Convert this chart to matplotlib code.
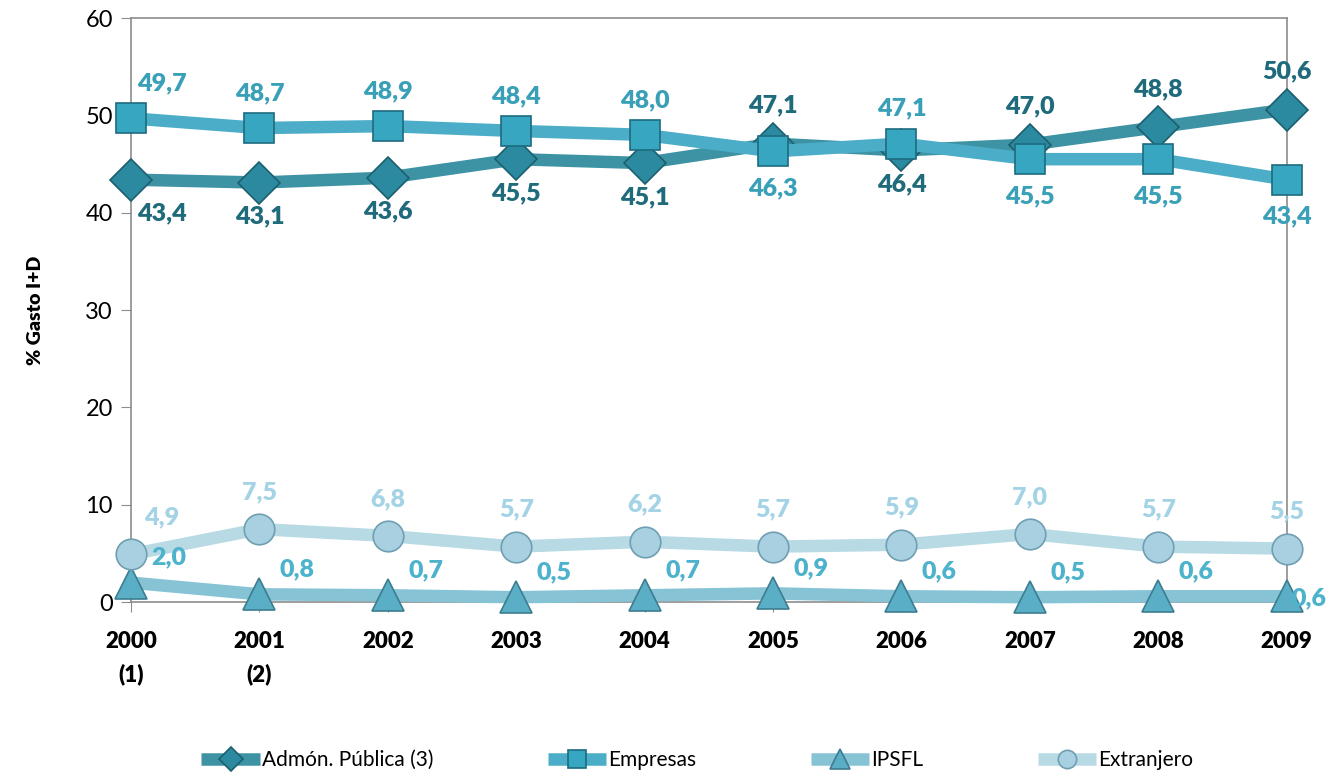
import matplotlib.pyplot as plt
import numpy as np

years = ["2000\n(1)", "2001\n(2)", "2002", "2003", "2004", "2005", "2006", "2007", "2008", "2009"]
admon = [43.4, 43.1, 43.6, 45.5, 45.1, 47.1, 46.4, 47.0, 48.8, 50.6]
empresas = [49.7, 48.7, 48.9, 48.4, 48.0, 46.3, 47.1, 45.5, 45.5, 43.4]
ipsfl = [2.0, 0.8, 0.7, 0.5, 0.7, 0.9, 0.6, 0.5, 0.6, 0.6]
extranjero = [4.9, 7.5, 6.8, 5.7, 6.2, 5.7, 5.9, 7.0, 5.7, 5.5]

AXC = "#8c8c8c"
FONT = "Lato"

fig = plt.figure(figsize=(13.26, 7.84), dpi=100)
ax = fig.add_axes([0.0988, 0.232, 0.8715, 0.745])
x = np.arange(len(years))

series = [
    ("Admón. Pública (3)", admon, "#3d93a4", "D", "#2b8aa0", "#1c5f6e", 21),
    ("Empresas", empresas, "#4badc7", "s", "#36a6c1", "#1d6b80", 21),
    ("IPSFL", ipsfl, "#85c3d5", "^", "#5aaec6", "#3d7d91", 23),
    ("Extranjero", extranjero, "#b7dae5", "o", "#a9d0e0", "#6f9fb2", 22),
]
for name, vals, lc, mk, fc, ec, ms in series:
    ax.plot(x, vals, color=lc, lw=9, marker=mk, ms=ms, mfc=fc, mec=ec, mew=1.2,
            label=name, clip_on=False, zorder=3, solid_capstyle="butt")

# label side per point: a = above, b = below
admon_pos = ["b", "b", "b", "b", "b", "a", "b", "a", "a", "a"]
emp_pos = ["a", "a", "a", "a", "a", "b", "a", "b", "b", "b"]

def lab(xi, v, txt_col, dx, dy):
    ax.annotate(f"{v:.1f}".replace(".", ","), (xi, v), xytext=(dx * 0.72, -dy * 0.72),
                textcoords="offset points", ha="center", va="center", color=txt_col,
                fontsize=18, fontweight="heavy", family=FONT, zorder=5, annotation_clip=False)

for i, v in enumerate(admon):
    dx = 31 if i == 0 else 0
    lab(i, v, "#1f6a7b", dx, -38 if admon_pos[i] == "a" else 34)
for i, v in enumerate(empresas):
    dx = 31 if i == 0 else 0
    lab(i, v, "#3aa0b8", dx, -35 if emp_pos[i] == "a" else 37)
for i, v in enumerate(extranjero):
    dx = 31 if i == 0 else 0
    lab(i, v, "#a3d3e5", dx, -37)
for i, v in enumerate(ipsfl):
    dx, dy = (22, 2) if i == 9 else (38, -25)
    lab(i, v, "#4db3cc", dx, dy)

ax.set_xlim(0, 9)
ax.set_ylim(0, 60)
ax.set_yticks(range(0, 61, 10))
ax.set_xticks(x)
ax.set_xticklabels(years, fontsize=16, fontweight="heavy", family=FONT, linespacing=1.6)
for t in ax.get_yticklabels():
    t.set_fontsize(17)
    t.set_family(FONT)
ax.tick_params(axis="y", direction="out", length=7, color=AXC, pad=6)
ax.tick_params(axis="x", direction="out", length=7, color=AXC, pad=14)
for sp in ax.spines.values():
    sp.set_color(AXC)
    sp.set_linewidth(1.2)
ax.set_ylabel("% Gasto I+D", fontsize=14, fontweight="heavy", family=FONT, labelpad=30)

leg = fig.legend(loc="lower center", bbox_to_anchor=(0.526, -0.006), ncol=4, frameon=False,
                 handlelength=2.8, columnspacing=5.5, handletextpad=0.1,
                 prop={"family": FONT, "size": 15}, markerscale=0.6)

fig.savefig("out.png", dpi=100, facecolor="white")
